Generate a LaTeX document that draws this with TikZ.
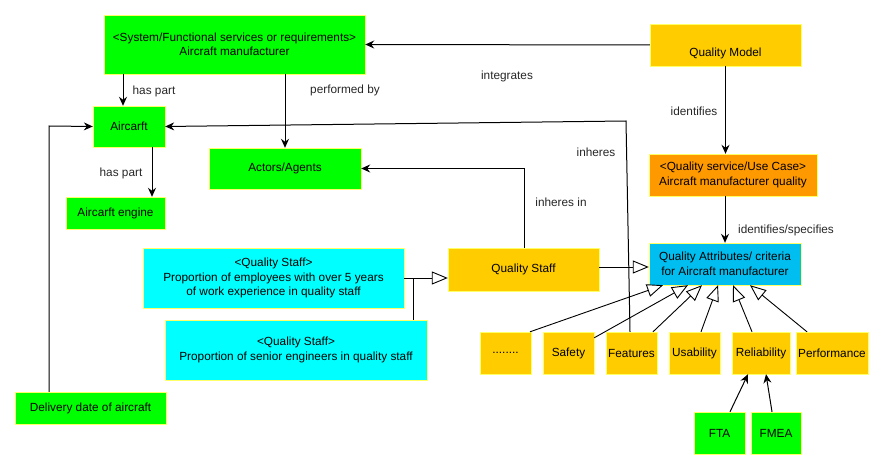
\documentclass[tikz,border=0pt]{standalone}
\usepackage{fontspec}
\setmainfont{Liberation Sans}
\usetikzlibrary{arrows.meta}
\definecolor{boxgreen}{RGB}{0,255,0}
\definecolor{boxgold}{RGB}{255,204,0}
\definecolor{boxorange}{RGB}{255,153,0}
\definecolor{boxcyan}{RGB}{0,255,255}
\definecolor{boxblue}{RGB}{0,191,240}
\definecolor{boxrim}{RGB}{255,255,102}
\begin{document}
\begin{tikzpicture}[x=1pt, y=-1pt, font=\fontsize{11.8}{14.5}\selectfont,
        box_style/.style={rectangle,draw=boxrim,thin,align=center,inner sep=1pt},
        green_style/.style={box_style,fill=boxgreen},
        gold_style/.style={box_style,fill=boxgold},
        orange_style/.style={box_style,fill=boxorange},
        cyan_style/.style={box_style,fill=boxcyan},
        blue_style/.style={box_style,fill=boxblue},
        edge_style/.style={draw=black, line width=1pt, -{Stealth[length=9pt,width=8pt,inset=3pt]}},
        kind_edge_style/.style={draw=black, line width=0.9pt, -{Triangle[open,length=16pt,width=13pt,fill=white]}},
        edge_label_style/.style={draw=none,fill=none,text=black!85}]
        \useasboundingbox (0,0) rectangle (883,470);

        % green boxes
        \node [green_style,minimum width=261pt,minimum height=59pt](sys) at (234.5,44.5) {<System/Functional services or requirements>\\Aircraft manufacturer};
        \node [green_style,minimum width=72pt,minimum height=41pt](craft) at (129,126.5) {Aircarft};
        \node [green_style,minimum width=99pt,minimum height=32pt](engine) at (115.5,213) {Aircarft engine};
        \node [green_style,minimum width=152pt,minimum height=41pt](actors) at (285,168.5) {Actors/Agents};
        \node [green_style,minimum width=151pt,minimum height=32pt](delivery) at (90.5,408) {Delivery date of aircraft};
        \node [green_style,minimum width=51pt,minimum height=42pt](fta) at (719.5,433) {FTA};
        \node [green_style,minimum width=50pt,minimum height=42pt](fmea) at (776,433) {FMEA};

        % quality side
        \node [gold_style,minimum width=151pt,minimum height=42pt](qmodel) at (725.5,45) {\raisebox{-12pt}[0pt][0pt]{Quality Model}};
        \node [orange_style,minimum width=168pt,minimum height=42pt](qservice) at (733,175) {<Quality service/Use Case>\\Aircraft manufacturer quality};
        \node [blue_style,minimum width=152pt,minimum height=42pt](qattr) at (725,264) {Quality Attributes/ criteria\\for Aircraft manufacturer};
        \node [gold_style,minimum width=151pt,minimum height=43pt](qstaff) at (523.5,269.5) {Quality Staff};
        \node [cyan_style,minimum width=261pt,minimum height=60pt](staffa) at (273.5,278) {<Quality Staff>\\Proportion of employees with over 5 years\\of work experience in quality staff};
        \node [cyan_style,minimum width=262pt,minimum height=60pt](staffb) at (296,350) {<Quality Staff>\\Proportion of senior engineers in quality staff};

        % criteria row
        \node [gold_style,minimum width=51pt,minimum height=42pt](more) at (505.5,353) {........};
        \node [gold_style,minimum width=51pt,minimum height=42pt](safety) at (568.5,353) {Safety};
        \node [gold_style,minimum width=51pt,minimum height=42pt](features) at (631.5,353) {Features};
        \node [gold_style,minimum width=51pt,minimum height=42pt](usability) at (694.5,353) {Usability};
        \node [gold_style,minimum width=58pt,minimum height=42pt](reliab) at (761,353) {Reliability};
        \node [gold_style,minimum width=72pt,minimum height=42pt](perf) at (832,353) {Performance};

        % plain relations
        \draw [edge_style] (qmodel.west) -- (sys.east);
        \node [edge_label_style] at (507,76) {integrates};
        \draw [edge_style] (sys.south -| 123,0) -- (craft.north -| 123,0);
        \node [edge_label_style] at (154,91) {has part};
        \draw [edge_style] (sys.south -| 285,0) -- (actors.north);
        \node [edge_label_style] at (345,90) {performed by};
        \draw [edge_style] (craft.south -| 152,0) -- (engine.north -| 152,0);
        \node [edge_label_style] at (121,173) {has part};
        \coordinate (dcorner) at (49,126);
        \draw [edge_style] (delivery.north -| dcorner) -- (dcorner) -- (craft.west);
        \coordinate (fcorner) at (626,121);
        \draw [edge_style] (features.north -| 630,0) -- (fcorner) -- (craft.east);
        \node [edge_label_style] at (596,152) {inheres};
        \coordinate (scorner) at (524,168.5);
        \draw [edge_style] (qstaff.north -| scorner) -- (scorner) -- (actors.east);
        \node [edge_label_style] at (561,202) {inheres in};
        \draw [edge_style] (qmodel.south) -- (qservice.north -| qmodel.south);
        \node [edge_label_style] at (694,111) {identifies};
        \draw [edge_style] (qservice.south -| qattr.north) -- (qattr.north);
        \node [edge_label_style] at (786,230) {identifies/specifies};
        \draw [edge_style] (fta.north -| 730,0) -- (reliab.south -| 748,0);
        \draw [edge_style] (fmea.north -| 772,0) -- (reliab.south -| 766,0);

        % kind-of relations
        \draw [kind_edge_style] (qstaff.east |- 0,267) -- (qattr.west |- 0,267);
        \coordinate (joint) at (413,278);
        \draw [kind_edge_style] (staffa.east |- joint) -- (qstaff.west |- joint);
        \draw [line width=0.9pt] (staffb.north -| joint) -- (joint);
        \draw [kind_edge_style] (more.north -| 530,0) -- (qattr.south -| 663,0);
        \draw [kind_edge_style] (safety.north east) ++(0,6) -- (qattr.south -| 688,0);
        \draw [kind_edge_style] (features.north -| 653,0) -- (qattr.south -| 702,0);
        \draw [kind_edge_style] (usability.north -| 701,0) -- (qattr.south -| 718,0);
        \draw [kind_edge_style] (reliab.north -| 752,0) -- (qattr.south -| 733,0);
        \draw [kind_edge_style] (perf.north -| 807,0) -- (qattr.south -| 750,0);
        \end{tikzpicture}
\end{document}
